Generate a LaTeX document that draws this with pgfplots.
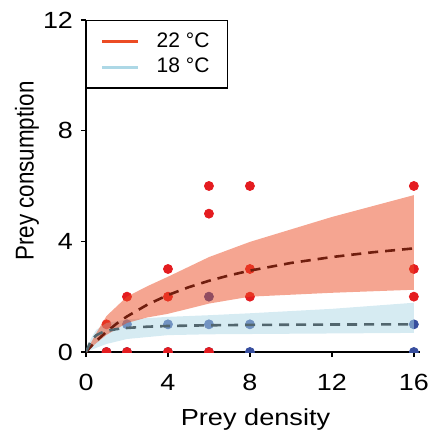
\documentclass[border=0pt]{standalone}
\usepackage{fontspec}
\setmainfont{Liberation Sans}
\usepackage{graphicx}
\usepackage{pgfplots}
\pgfplotsset{compat=1.18}

\definecolor{ptred}{RGB}{228,28,32}
\definecolor{ptnavy}{RGB}{55,78,158}
\definecolor{bandred}{RGB}{236,76,36}
\definecolor{bandblue}{RGB}{173,216,230}
\definecolor{fitred}{RGB}{112,30,14}
\definecolor{fitblue}{RGB}{82,102,110}

\begin{document}
\begin{tikzpicture}
\begin{axis}[
    at={(0,0)}, anchor=origin,
    scale only axis,
    width=167pt, height=166pt,
    xmin=0, xmax=16.3, ymin=0, ymax=12,
    xtick={0,4,8,12,16}, ytick={0,4,8,12},
    axis x line=bottom, axis y line=left,
    axis line style={-, line width=0.8pt},
    tick style={line width=0.8pt, black},
    tick align=outside, major tick length=2.5pt,
    clip marker paths=true,
    tick label style={font=\fontsize{11.7}{13}\selectfont},
    xticklabel={\scalebox{1.15}[1]{\pgfmathprintnumber[assume math mode=true]{\tick}}},
    yticklabel={\scalebox{1.15}[1]{\pgfmathprintnumber[assume math mode=true]{\tick}}},
    xticklabel style={yshift=-5pt},
    yticklabel style={xshift=-0.5pt},
    xlabel={\scalebox{1.17}[1]{Prey density}},
    ylabel={\scalebox{1}[1.15]{Prey consumption}},
    xlabel style={font=\fontsize{11.6}{13}\selectfont,
        at={(axis description cs:0.5075,-0.15)}, anchor=north},
    ylabel style={font=\fontsize{11.2}{12}\selectfont,
        at={(axis description cs:-0.12,0.545)}, anchor=south},
    legend style={at={(0,1)}, anchor=north west, draw=black, line width=0.6pt,
        font=\fontsize{10.5}{12}\selectfont, inner xsep=7pt, inner ysep=4pt,
        row sep=0pt},
    legend cell align=left,
    legend image code/.code={\draw[#1, line width=1.5pt] (0pt,0pt) -- (18pt,0pt);
        \path (25pt,0pt);},
]
% observed points, 18 C under 22 C
\addplot[only marks, mark=*, mark size=2.25pt, color=ptnavy, forget plot]
    coordinates {(1,0) (2,0) (4,0) (6,0) (2,1) (4,1) (6,1) (6,2) (8,1) (8,0) (16,1) (16,0)};
\addplot[only marks, mark=*, mark size=2.25pt, color=ptred, forget plot]
    coordinates {(1,1) (1,0) (2,2) (2,0) (4,3) (4,2) (4,0) (6,6) (6,5) (6,0)
                 (8,6) (8,3) (8,2) (16,6) (16,3) (16,2)};

% confidence bands: upper edge, then lower edge back to the origin
\addplot[fill=bandblue, fill opacity=0.5, draw=none, forget plot] coordinates {
    (0,0) (0.25,0.5) (0.5,0.8) (1,1.05) (2,1.18) (4,1.27) (6,1.33) (8,1.4) (12,1.56) (16,1.78)
    (16,0.69) (12,0.67) (8,0.65) (6,0.64) (4,0.61) (2,0.47) (1,0.29) (0.5,0.15) (0,0)} -- cycle;
\addplot[fill=bandred, fill opacity=0.5, draw=none, forget plot] coordinates {
    (0,0) (0.5,0.68) (1,1.3) (2,2.0) (3,2.38) (4,2.72) (6,3.43) (8,3.98) (12,4.88) (16,5.67)
    (16,2.25) (12,2.14) (8,2.0) (6,1.75) (4,1.38) (3,1.25) (2,1.05) (1,0.62) (0.5,0.32) (0,0)} -- cycle;

% fitted curves
\addplot[fitred, line width=1.3pt, dash pattern=on 5pt off 3.5pt, forget plot] coordinates {
    (0,0) (0.25,0.206) (0.5,0.395) (1,0.733) (1.5,1.028) (2,1.285) (3,1.714) (4,2.058)
    (5,2.339) (6,2.573) (7,2.771) (8,2.941) (10,3.218) (12,3.432) (14,3.605) (16,3.745)};
\addplot[fitblue, line width=1.3pt, dash pattern=on 5pt off 3.5pt, forget plot] coordinates {
    (0,0) (0.25,0.427) (0.5,0.603) (0.75,0.698) (1,0.758) (1.5,0.829) (2,0.870) (3,0.915)
    (4,0.940) (6,0.966) (8,0.979) (12,0.993) (16,1.0)};

\addlegendimage{bandred}
\addlegendentry{22 °C}
\addlegendimage{bandblue}
\addlegendentry{18 °C}
\end{axis}
\pgfresetboundingbox
\path[use as bounding box] (-43pt,-40pt) rectangle (172pt,176pt);
\end{tikzpicture}
\end{document}
